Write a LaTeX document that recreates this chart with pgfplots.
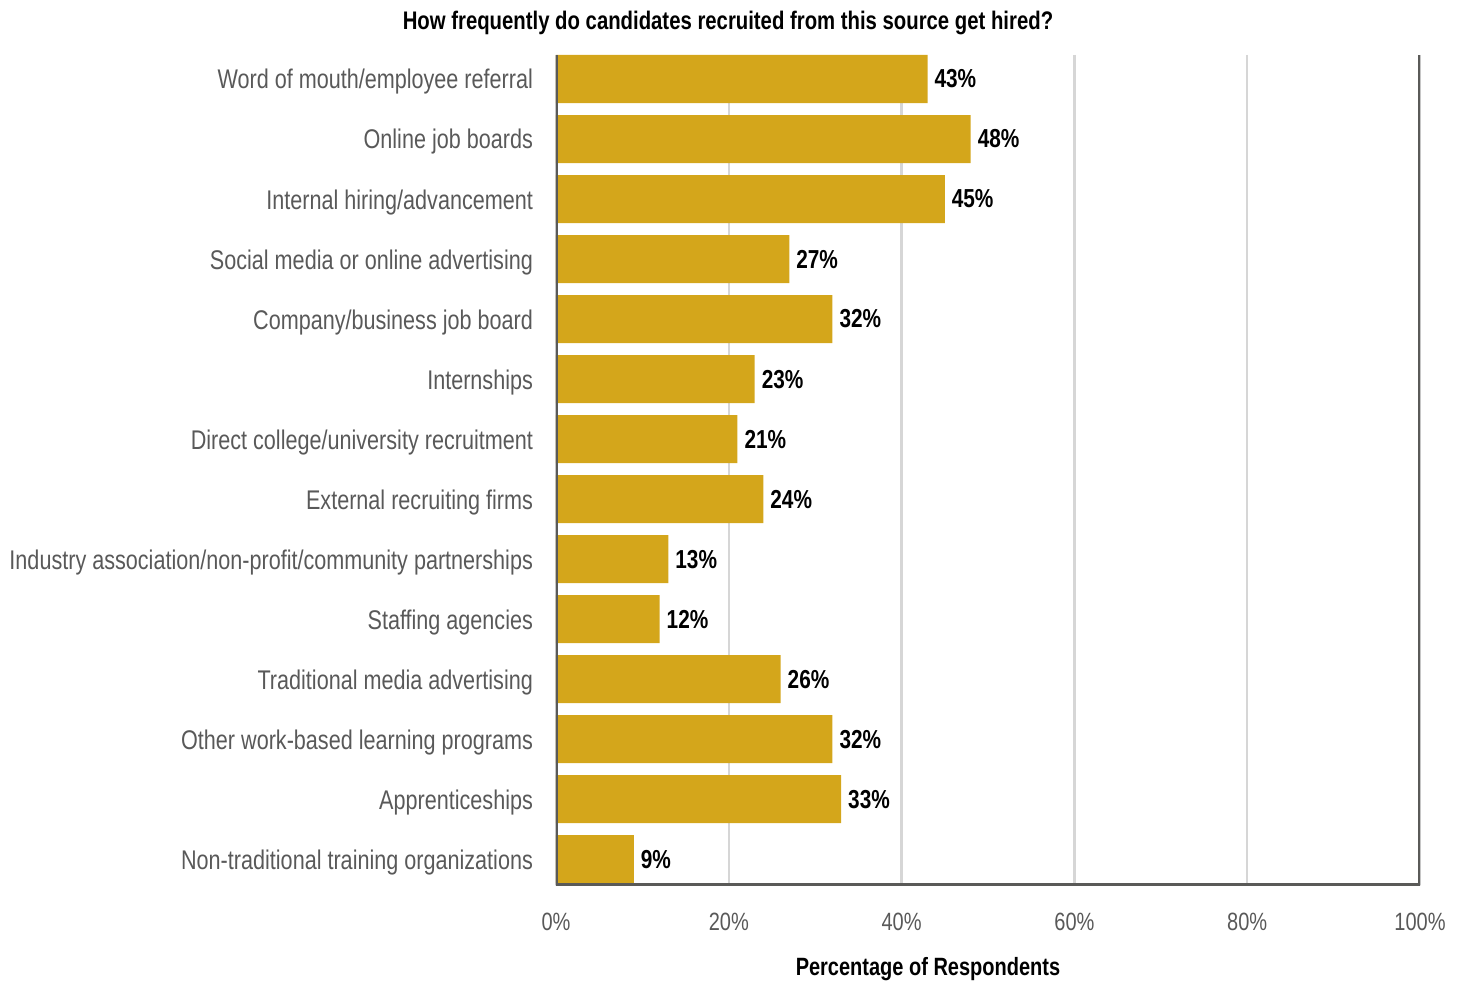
\documentclass[border=0pt]{standalone}
\usepackage{fontspec}
\setmainfont{Liberation Sans}[FakeStretch=0.8]
\usepackage{pgfplots}
\pgfplotsset{compat=1.18}
\definecolor{bargold}{HTML}{D4A61B}
\definecolor{txtgray}{HTML}{595959}
\definecolor{axgray}{HTML}{5A5A58}
\definecolor{gridgray}{HTML}{D6D6D6}
\begin{document}
\begin{tikzpicture}
\begin{axis}[
  scale only axis,
  width=432pt, height=415pt,
  at={(0,0)}, anchor=south west,
  xbar, bar width=0.8, bar shift=0pt,
  xmin=0, xmax=100,
  ymin=-0.4, ymax=13.43,
  y dir=reverse,
  axis line style={draw=none},
  xtick={0,20,40,60,80,100},
  xticklabel={\pgfmathprintnumber{\tick}\%},
  /pgf/number format/assume math mode=true,
  xticklabel style={font=\fontsize{12.5pt}{14pt}\selectfont, text=txtgray, yshift=-10.5pt},
  ytick={0,...,13},
  yticklabels={Word of mouth/employee referral, Online job boards, Internal hiring/advancement, Social media or online advertising, Company/business job board, Internships, Direct college/university recruitment, External recruiting firms, Industry association/non-profit/community partnerships, Staffing agencies, Traditional media advertising, Other work-based learning programs, Apprenticeships, Non-traditional training organizations},
  yticklabel style={font=\fontsize{13.5pt}{15pt}\selectfont, text=txtgray, xshift=-8pt, yshift=-1.5pt},
  xtick pos=bottom, ytick pos=left,
  major tick length=0pt,
  xmajorgrids, grid style={gridgray, line width=1.2pt},
  nodes near coords={\pgfmathprintnumber{\pgfplotspointmeta}\%},
  nodes near coords style={font=\bfseries\fontsize{13pt}{15pt}\selectfont, text=black, anchor=west, xshift=0pt},
  point meta=x,
]
\addplot[fill=bargold, draw=none] coordinates {
(43,0) (48,1) (45,2) (27,3) (32,4) (23,5) (21,6) (24,7) (13,8) (12,9) (26,10) (32,11) (33,12) (9,13)};
\draw[axgray, line width=1.6pt, line join=miter] (axis description cs:0,1) -- (axis description cs:0,0) -- (axis description cs:1,0) -- (axis description cs:1,1);
\end{axis}
\node[font=\bfseries\fontsize{12.7pt}{14pt}\selectfont] at (86pt,431pt) {How frequently do candidates recruited from this source get hired?};
\node[font=\bfseries\fontsize{12.5pt}{14pt}\selectfont] at (186pt,-42pt) {Percentage of Respondents};
\pgfresetboundingbox
\useasboundingbox (-278pt,-49pt) rectangle (454.5pt,442.5pt);
\end{tikzpicture}
\end{document}
